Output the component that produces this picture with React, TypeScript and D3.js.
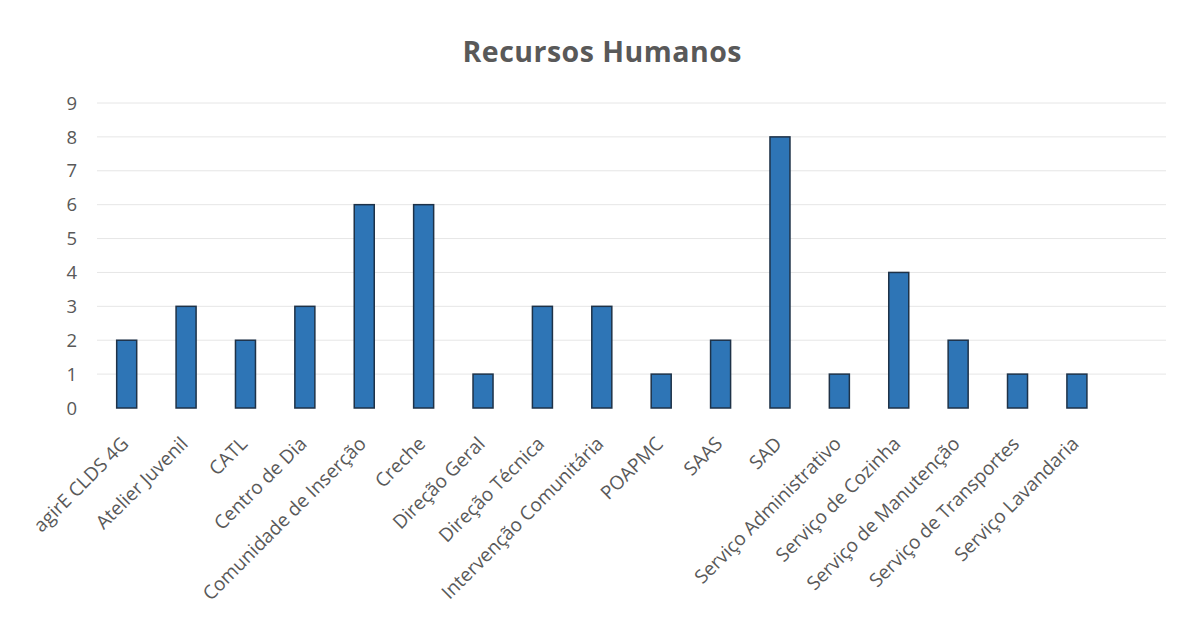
import React from "react";
import * as d3 from "d3";

// Staff count per service
const categories: string[] = [
  "agirE CLDS 4G",
  "Atelier Juvenil",
  "CATL",
  "Centro de Dia",
  "Comunidade de Inserção",
  "Creche",
  "Direção Geral",
  "Direção Técnica",
  "Intervenção Comunitária",
  "POAPMC",
  "SAAS",
  "SAD",
  "Serviço Administrativo",
  "Serviço de Cozinha",
  "Serviço de Manutenção",
  "Serviço de Transportes",
  "Serviço Lavandaria",
];
const values: number[] = [2, 3, 2, 3, 6, 6, 1, 3, 3, 1, 2, 8, 1, 4, 2, 1, 1];
const yTicks: number[] = [0, 1, 2, 3, 4, 5, 6, 7, 8, 9];
const title = "Recursos Humanos";

const W = 1190;
const H = 620;
const plot = { left: 97, right: 1166, top: 103, bottom: 408 };
const FONT = "'Open Sans', 'Liberation Sans', sans-serif";
const TEXT = "#595959";

export default function App() {
  // The plot area keeps one empty slot after the last category
  const slots = d3.range(categories.length + 1);
  const x = d3
    .scaleBand<number>()
    .domain(slots)
    .range([plot.left, plot.right])
    .paddingInner(0.663)
    .paddingOuter(0.3315);
  const y = d3.scaleLinear().domain([0, 9]).range([plot.bottom, plot.top]);
  const bw = x.bandwidth();

  return (
    <svg
      width={W}
      height={H}
      style={{ position: "absolute", left: 0, top: 0, background: "#fff" }}
      fontFamily={FONT}
    >
      <rect x={0} y={0} width={W} height={H} fill="#fff" />
      <text
        x={602}
        y={62}
        textAnchor="middle"
        fontSize={28.5}
        fontWeight={700}
        fill={TEXT}
        textLength={279}
        lengthAdjust="spacing"
      >
        {title}
      </text>

      {yTicks.map((t) => (
        <g key={t}>
          {t > 0 && (
            <line
              x1={plot.left}
              x2={plot.right}
              y1={y(t)}
              y2={y(t)}
              stroke="#e6e6e6"
              strokeWidth={1}
            />
          )}
          <text
            x={77}
            y={y(t)}
            dy="0.36em"
            textAnchor="end"
            fontSize={18.5}
            fill={TEXT}
          >
            {t}
          </text>
        </g>
      ))}

      {values.map((v, i) => (
        <rect
          key={categories[i]}
          x={x(i)!}
          y={y(v)}
          width={bw}
          height={y(0) - y(v)}
          fill="#2e75b6"
          stroke="#1e3248"
          strokeWidth={1.5}
        />
      ))}

      {categories.map((c, i) => {
        const cx = x(i)! + bw / 2;
        return (
          <text
            key={c}
            transform={`translate(${cx + 3},${plot.bottom + 37}) rotate(-45)`}
            textAnchor="end"
            fontSize={19}
            fill={TEXT}
          >
            {c}
          </text>
        );
      })}
    </svg>
  );
}
